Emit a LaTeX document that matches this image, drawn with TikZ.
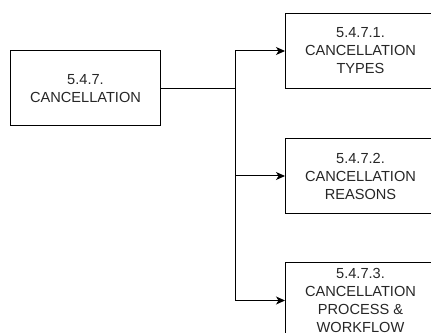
\documentclass[tikz,border=0pt]{standalone}
\usepackage{fontspec}
\setmainfont{Liberation Sans}
\usetikzlibrary{arrows.meta}
\begin{document}
\begin{tikzpicture}[x=1pt,y=1pt,
  box/.style={draw, line width=1pt, minimum width=150pt, minimum height=75pt,
    inner sep=0pt, align=center, text=black!85,
    font=\fontsize{14.6}{18}\selectfont},
  link/.style={line width=1pt},
  arr/.style={link, -{Stealth[length=9pt,width=8pt,inset=2.5pt]}}]
  \useasboundingbox (0,0) rectangle (431,332);
  % parent topic
  \node[box] (main) at (85.5,243.5) {5.4.7.\\CANCELLATION};
  % sub-topics
  \node[box] (c1) at (360.5,281) {5.4.7.1.\\CANCELLATION\\TYPES};
  \node[box] (c2) at (360.5,156) {5.4.7.2.\\CANCELLATION\\REASONS};
  \node[box] (c3) at (360.5,31.5) {5.4.7.3.\\CANCELLATION\\PROCESS \&\\WORKFLOW};
  % branching connectors
  \coordinate (j) at (235,243.5);
  \draw[link] (main.east) -- (j);
  \draw[arr] (j) |- (c1.west);
  \draw[arr] (j) |- (c2.west);
  \draw[arr] (j) |- (c3.west);
\end{tikzpicture}
\end{document}
